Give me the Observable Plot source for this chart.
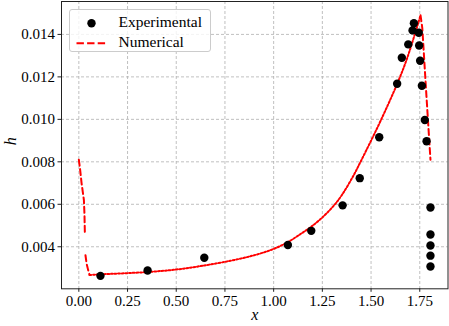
<!DOCTYPE html>
<html>
<head>
<meta charset="utf-8">
<script src="https://cdn.jsdelivr.net/npm/d3@7"></script>
<script src="https://cdn.jsdelivr.net/npm/@observablehq/plot@0.6"></script>
<style>
  html, body { margin: 0; padding: 0; background: #fff; }
  #wrap { position: relative; width: 449px; height: 326px; font-family: "Liberation Serif", "Times New Roman", Times, "DejaVu Serif", serif; }
  #wrap svg text { font-family: "Liberation Serif", "Times New Roman", Times, "DejaVu Serif", serif !important; }
  #legend { position: absolute; left: 68.5px; top: 8.5px; width: 142px; height: 43px;
    border: 1px solid #cccccc; border-radius: 3px; background: rgba(255,255,255,0.8); box-sizing: border-box; }
  #legend svg { position: absolute; left: 0; top: 0; }
  #legend .lbl { position: absolute; left: 49px; font-size: 15.5px; line-height: 16px; color: #000; white-space: nowrap; }
</style>
</head>
<body>
<div id="wrap"></div>
<script>
// Experimental points
const expX = [0.111, 0.353, 0.644, 1.073, 1.193, 1.354, 1.442, 1.542, 1.634, 1.658, 1.691, 1.713, 1.720, 1.745, 1.747, 1.752, 1.761, 1.776, 1.785, 1.805, 1.805, 1.805, 1.805, 1.805];
const expH = [0.00263, 0.00288, 0.00348, 0.00408, 0.00475, 0.00595, 0.00723, 0.00916, 0.01168, 0.0129, 0.01353, 0.01419, 0.01453, 0.01408, 0.01348, 0.01276, 0.01158, 0.00997, 0.00897, 0.00585, 0.00458, 0.00406, 0.00358, 0.00307];

// Numerical solution (three pieces)
const numLeftX = [0, 0.007, 0.014, 0.020, 0.026, 0.029, 0.031, 0.0325, 0.034, 0.040, 0.048, 0.055];
const numLeftH = [0.0081, 0.0076, 0.0070, 0.0066, 0.0062, 0.0055, 0.0046, null, 0.0036, 0.0032, 0.0029, 0.00267];
const numCurveX = [0.055, 0.111, 0.353, 0.502, 0.625, 0.778, 0.900, 1.001, 1.077, 1.138, 1.195, 1.250, 1.309, 1.352, 1.412, 1.446, 1.497, 1.549, 1.634, 1.686, 1.754];
const numCurveH = [0.00267, 0.00270, 0.00281, 0.00293, 0.00309, 0.00334, 0.00360, 0.00390, 0.00424, 0.00460, 0.00496, 0.00538, 0.00594, 0.00646, 0.00739, 0.00800, 0.00894, 0.00993, 0.01167, 0.0129, 0.0149];
const numRightX = [1.754, 1.763, 1.785, 1.805];
const numRightH = [0.0149, 0.0143, 0.0110, 0.0081];

// Ticks
const xTicks = [0, 0.25, 0.5, 0.75, 1.0, 1.25, 1.5, 1.75];
const yTicks = [0.004, 0.006, 0.008, 0.010, 0.012, 0.014];

const exp = expX.map((x, i) => ({x, h: expH[i]}));
const toRows = (xs, hs) => xs.map((x, i) => ({x, h: hs[i] == null ? NaN : hs[i]}));
const numLeft = toRows(numLeftX, numLeftH);
const numCurve = toRows(numCurveX, numCurveH);
const numRight = toRows(numRightX, numRightH);

const RED = "#ff0000";
const FONT = "'Liberation Serif', 'Times New Roman', Times, 'DejaVu Serif', serif";
const chart = Plot.plot({
  width: 449,
  height: 326,
  marginLeft: 61,
  marginRight: 1.5,
  marginTop: 1,
  marginBottom: 37.7,
  style: {fontFamily: FONT, background: "transparent"},
  x: {domain: [-0.089, 1.895]},
  y: {domain: [0.00202, 0.01555]},
  marks: [
    Plot.gridX(xTicks, {stroke: "#b0b0b0", strokeOpacity: 1, strokeWidth: 0.8, strokeDasharray: "3,2"}),
    Plot.gridY(yTicks, {stroke: "#b0b0b0", strokeOpacity: 1, strokeWidth: 0.8, strokeDasharray: "3,2"}),
    Plot.line(numLeft, {x: "x", y: "h", stroke: RED, strokeWidth: 2, strokeDasharray: "6,3.5"}),
    Plot.line(numCurve, {x: "x", y: "h", stroke: RED, strokeWidth: 2, strokeDasharray: "1.8,1.8", curve: "catmull-rom"}),
    Plot.line(numRight, {x: "x", y: "h", stroke: RED, strokeWidth: 2, strokeDasharray: "6,3.5"}),
    Plot.dot(exp, {x: "x", y: "h", r: 4.2, fill: "black", stroke: "none"}),
    Plot.frame({stroke: "#222", strokeWidth: 1}),
    Plot.axisX(xTicks, {tickFormat: d3.format(".2f"), tickSize: 3.5, tickPadding: 3, fontSize: 15, fontFamily: FONT, label: null, stroke: "#222"}),
    Plot.axisY(yTicks, {tickFormat: d3.format(".3f"), tickSize: 3.5, tickPadding: 3, fontSize: 15, fontFamily: FONT, label: null, stroke: "#222"}),
    Plot.text(["x"], {frameAnchor: "bottom", dy: 31, fontStyle: "italic", fontSize: 16, fontFamily: FONT}),
    Plot.text(["h"], {frameAnchor: "left", dx: -51, rotate: -90, fontStyle: "italic", fontSize: 16, fontFamily: FONT})
  ]
});

const wrap = document.getElementById("wrap");
wrap.appendChild(chart);

// Legend
const legend = document.createElement("div");
legend.id = "legend";
legend.innerHTML = `
  <svg width="142" height="43">
    <circle cx="21.5" cy="13.2" r="4.2" fill="black"></circle>
    <line x1="6.5" y1="33.2" x2="36.5" y2="33.2" stroke="${RED}" stroke-width="2" stroke-dasharray="7.4,3.2"></line>
  </svg>
  <div class="lbl" style="top:4.5px">Experimental</div>
  <div class="lbl" style="top:24.5px">Numerical</div>`;
wrap.appendChild(legend);
</script>
</body>
</html>
